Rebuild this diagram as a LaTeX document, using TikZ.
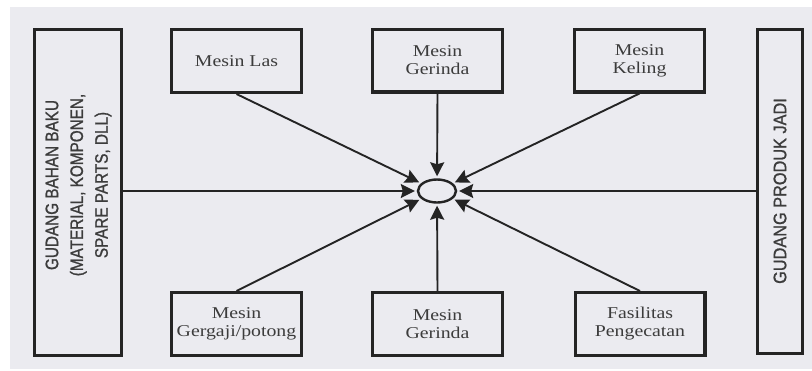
\documentclass[tikz,border=0pt]{standalone}
\usepackage{fontspec}
\usepackage{graphicx}
\setmainfont{Liberation Serif}[FakeStretch=1.2]
\newfontfamily\sidefont{Liberation Sans}[FakeBold=1.2]
\usetikzlibrary{arrows.meta,shapes.geometric}
\definecolor{bg}{HTML}{EBEBF0}
\definecolor{ink}{HTML}{242424}
\definecolor{txt}{HTML}{3C3C3C}
\begin{document}
\begin{tikzpicture}[x=1pt,y=-1pt,
  box/.style={draw=ink,line width=3.2pt,minimum width=129.8pt,minimum height=62.8pt,
    inner sep=0pt,align=center,text=txt,font=\fontsize{16.5}{18}\selectfont},
  sidebox/.style={draw=ink,line width=3.2pt,inner sep=0pt,text=txt},
  hub/.style={draw=ink,line width=2.4pt,ellipse,minimum width=38pt,minimum height=23pt,inner sep=0pt,fill=bg},
  conn/.style={draw=ink,line width=1.9pt,shorten >=2pt,
    -{Stealth[length=14pt,width=14pt,inset=2pt]}}]
\useasboundingbox (0,0) rectangle (812,370);
\fill[white] (0,0) rectangle (812,370);
\fill[bg] (10,7) rectangle (812,369);
% side boxes
\node[sidebox,minimum width=86.8pt,minimum height=325.8pt] (gbb) at (78,192.5) {};
\node[text=txt,inner sep=0pt] (gbbt) at (78,185) {\rotatebox{90}{\scalebox{1}[1.18]{\sidefont\fontsize{15.3}{21}\selectfont
  \begin{tabular}{@{}c@{}}GUDANG BAHAN BAKU\\(MATERIAL, KOMPONEN,\\SPARE PARTS, DLL)\end{tabular}}}};
\node[sidebox,minimum width=44.8pt,minimum height=323.8pt] (gpj) at (780,191.5) {};
\node[text=txt,inner sep=0pt] (gpjt) at (780,191) {\rotatebox{90}{\scalebox{1}[1.11]{\sidefont\fontsize{16.3}{18}\selectfont GUDANG PRODUK JADI}}};
% machine boxes
\node[box] (las) at (236.5,61) {Mesin Las};
\node[box] (ger1) at (437.5,60.5) {Mesin\\Gerinda};
\node[box] (kel) at (639.5,60.5) {Mesin\\Keling};
\node[box] (gg) at (236.5,324) {Mesin\\Gergaji/potong};
\node[box] (ger2) at (437.5,324) {Mesin\\Gerinda};
\node[box] (cat) at (640,324) {Fasilitas\\Pengecatan};
% hub
\node[hub] (c) at (437,191) {};
% connectors
\draw[conn] (gbb.east |- c) -- (c);
\draw[conn] (gpj.west |- c) -- (c);
\draw[conn] (las.south) -- (c);
\draw[conn] (ger1.south) -- (c);
\draw[conn] (kel.south) -- (c);
\draw[conn] (gg.north) -- (c);
\draw[conn] (ger2.north) -- (c);
\draw[conn] (cat.north) -- (c);
\end{tikzpicture}
\end{document}
